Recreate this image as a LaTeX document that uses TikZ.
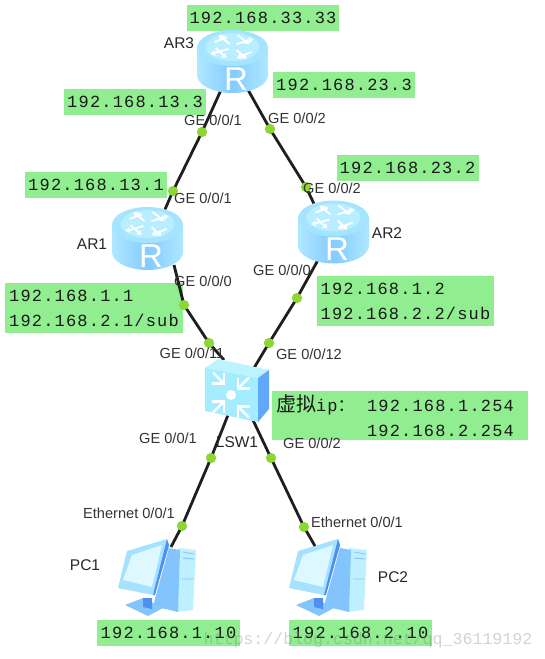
\documentclass[tikz,border=0pt]{standalone}
\usepackage{fontspec}
\setmainfont{Liberation Sans}
\newfontfamily\ipmono[LetterSpace=7]{Liberation Mono}
\newfontfamily\wmmono{Liberation Mono}
\newfontfamily\cjkf{Noto Sans CJK SC}
\usetikzlibrary{arrows.meta}
\definecolor{boxgreen}{HTML}{90EE90}
\definecolor{dotgreen}{HTML}{8CD636}
\definecolor{rtop}{HTML}{A4E4FF}
\definecolor{rtopin}{HTML}{B8EEFF}
\definecolor{rside}{HTML}{AEE8FF}
\definecolor{rmid}{HTML}{86CBFF}
\definecolor{pcblue}{HTML}{84C4FC}
\definecolor{pcdark}{HTML}{4F8FF0}
\definecolor{pclight}{HTML}{BFF0FF}
\definecolor{pcframe}{HTML}{A6E2FF}
\definecolor{pcscreen}{HTML}{DDF8FF}
\definecolor{swfront}{HTML}{A6ECFF}
\definecolor{swtop}{HTML}{BDF2FF}
\definecolor{swright}{HTML}{62A8FA}
\tikzset{
  ipbox/.style={fill=boxgreen,inner sep=0pt,text=black!90,font=\ipmono\fontsize{17}{25}\selectfont,minimum height=26pt},
  ipbox2/.style={ipbox,align=left},
  lbl/.style={inner sep=0pt,text=black!80,font=\fontsize{14.6}{16}\selectfont},
  devlbl/.style={inner sep=0pt,text=black!85,font=\fontsize{15.5}{17}\selectfont},
  link/.style={line width=2.8pt,draw=black!88},
  port/.style={circle,fill=dotgreen,inner sep=0pt,minimum size=10pt},
  devbox/.style={inner sep=0pt,minimum width=71pt,minimum height=63pt},
  whitearrow/.style={draw=white,line width=1.8pt,-{Stealth[length=5pt,width=6.5pt]}},
  whitestroke/.style={draw=white,line width=2.2pt,line join=miter},
  routericon/.pic={
    \path[left color=rside,right color=rside,middle color=rmid]
      (-35.5,18) -- (-35.5,45) arc[start angle=180,end angle=360,x radius=35.5pt,y radius=18pt] -- (35.5,18) -- cycle;
    \fill[rtop] (0,18) ellipse[x radius=35.5pt,y radius=18pt];
    \fill[rtopin] (0,17) ellipse[x radius=27pt,y radius=14pt];
    \draw[whitearrow] (-3,14) -- (-14,5);
    \draw[whitearrow] (-18,12) -- (-5,7);
    \draw[whitearrow] (4,14) -- (21,9);
    \draw[whitearrow] (5,5) -- (17,14);
    \draw[whitearrow] (-4,19) -- (-22,24);
    \draw[whitearrow] (-17,18) -- (-6,28);
    \draw[whitearrow] (4,20) -- (14,29);
    \draw[whitearrow] (19,22) -- (4,28);
    \node[inner sep=0pt,text=white,font=\fontsize{33}{33}\selectfont] at (3.5,49) {R};
  },
  pcicon/.pic={
    \fill[pcblue] (125,605) -- (143,598) -- (163,608) -- (148,616) -- cycle;
    \fill[pcdark] (143,598) -- (152,598) -- (152,609) -- (143,607) -- cycle;
    \fill[pclight] (178,548) -- (196,550) -- (193,610) -- (176,612) -- cycle;
    \fill[pcblue] (169,548) -- (180,550) -- (178,612) -- (153,606) -- cycle;
    \draw[pcblue,line width=.9pt] (183,552) -- (194,554) (183,558) -- (194,559) (182,579) -- (193,579);
    \fill[pcframe] (127,551) -- (167,539) -- (169,547) -- (153,595) -- (118,588) -- cycle;
    \fill[pcdark] (167,539) -- (169,545) -- (155,595) -- (153,595) -- cycle;
    \fill[pcscreen] (132,555) -- (162,545) -- (152,587) -- (123,580) -- cycle;
  }
}
\begin{document}
\begin{tikzpicture}[x=1pt,y=-1pt]
\useasboundingbox (0,0) rectangle (545,659);
% address boxes
\node[ipbox,minimum width=152pt] (ip33) at (263,18) {192.168.33.33};
\node[ipbox,minimum width=142pt] (ip233) at (344,85) {192.168.23.3};
\node[ipbox,minimum width=142pt] (ip133) at (135,102) {192.168.13.3};
\node[ipbox,minimum width=142pt] (ip232) at (407.5,168) {192.168.23.2};
\node[ipbox,minimum width=142pt] (ip131) at (96,185) {192.168.13.1};
\node[ipbox2,minimum width=178pt,minimum height=50pt] (ip11) at (94,308) {192.168.1.1\\192.168.2.1/sub};
\node[ipbox2,minimum width=177pt,minimum height=50pt] (ip12) at (405.5,301) {192.168.1.2\\192.168.2.2/sub};
\node[ipbox2,text width=248pt,minimum width=256pt,minimum height=49pt] (vip) at (400,415.5) {\makebox[91pt][l]{{\cjkf\fontsize{20}{25}\selectfont 虚拟}ip{\cjkf：}}192.168.1.254\\\makebox[91pt][l]{}192.168.2.254};
\node[ipbox,minimum width=143pt] (ip110) at (168.5,633) {192.168.1.10};
\node[ipbox,minimum width=143pt] (ip210) at (360.5,633) {192.168.2.10};
% device anchors
\node[devbox] (AR3) at (232.5,61.5) {};
\node[devbox] (AR1) at (147.5,238.5) {};
\node[devbox] (AR2) at (333.5,232) {};
\node[inner sep=0pt,minimum width=64pt,minimum height=64pt] (LSW) at (237,390) {};
\node[inner sep=0pt,minimum width=78pt,minimum height=76pt] (PC1) at (157,577) {};
\node[inner sep=0pt,minimum width=78pt,minimum height=76pt] (PC2) at (328,577) {};
% PCs lie below their links
\pic at (0,0) {pcicon};
\pic at (171,0) {pcicon};
% line ends inside the devices
\coordinate (e3l) at (221,90);
\coordinate (e3r) at (247,88);
\coordinate (e1u) at (163,214);
\coordinate (e2u) at (316,208);
\coordinate (e1d) at (174,265);
\coordinate (e2d) at (318,260);
\coordinate (esul) at (224,360);
\coordinate (esur) at (254,368);
\coordinate (esdl) at (228,415);
\coordinate (esdr) at (252,418);
\coordinate (epc1) at (171,547);
\coordinate (epc2) at (315,546);
% port dots
\node[port] (p1) at (202,132) {};
\node[port] (p2) at (173,191) {};
\node[port] (p3) at (270,129) {};
\node[port] (p4) at (306,187) {};
\node[port] (p5) at (184,305) {};
\node[port] (p6) at (209,343) {};
\node[port] (p7) at (297,298) {};
\node[port] (p8) at (269,343) {};
\node[port] (p9) at (211,458) {};
\node[port] (p10) at (182,526) {};
\node[port] (p11) at (271,458) {};
\node[port] (p12) at (304,527) {};
% links
\draw[link] (e3l) -- (p1.center) -- (p2.center) -- (e1u);
\draw[link] (e3r) -- (p3.center) -- (p4.center) -- (e2u);
\draw[link] (e1d) -- (p5.center) -- (p6.center) -- (esul);
\draw[link] (e2d) -- (p7.center) -- (p8.center) -- (esur);
\draw[link] (esdl) -- (p9.center) -- (p10.center) -- (epc1);
\draw[link] (esdr) -- (p11.center) -- (p12.center) -- (epc2);
% dots again above the links
\foreach \n in {p1,p2,p3,p4,p5,p6,p7,p8,p9,p10,p11,p12}
  \fill[dotgreen] (\n) circle[radius=5pt];
% routers
\pic at (232.5,30) {routericon};
\pic at (147.5,207) {routericon};
\pic at (333.5,200.5) {routericon};
% switch
\fill[swtop] (205,368) -- (218,359) -- (269,370) -- (258,378) -- cycle;
\fill[swfront] (205,368) -- (258,378) -- (258,422) -- (205,411) -- cycle;
\fill[swright] (258,378) -- (269,370) -- (269,409) -- (258,422) -- cycle;
\fill[white] (231,395) circle[radius=5pt];
\foreach \dx/\dy/\sk in {-1/-1/-2.5, 1/-1/2.5, -1/1/-2.5, 1/1/2.5}{
  \draw[whitestroke] (231+\dx*19,395+\dy*9+\sk) -- (231+\dx*7,395+\dy*9+\sk) -- (231+\dx*7,395+\dy*20+\sk);
  \draw[whitestroke] (231+\dx*18,395+\dy*20+\sk) -- (231+\dx*8,395+\dy*10+\sk);
}
% labels
\node[devlbl] (lAR3) at (179,43) {AR3};
\node[devlbl] (lAR1) at (92,244) {AR1};
\node[devlbl] (lAR2) at (387,233) {AR2};
\node[devlbl] (lPC1) at (85,565) {PC1};
\node[devlbl] (lPC2) at (393,577) {PC2};
\node[devlbl] (lLSW) at (237,442) {LSW1};
\node[lbl] (g1) at (213,120) {GE 0/0/1};
\node[lbl] (g2) at (297,118) {GE 0/0/2};
\node[lbl] (g3) at (203,198) {GE 0/0/1};
\node[lbl] (g4) at (332,188) {GE 0/0/2};
\node[lbl] (g5) at (203,281) {GE 0/0/0};
\node[lbl] (g6) at (282,270) {GE 0/0/0};
\node[lbl] (g7) at (192,353) {GE 0/0/11};
\node[lbl] (g8) at (309,354) {GE 0/0/12};
\node[lbl] (g9) at (168,438) {GE 0/0/1};
\node[lbl] (g10) at (312,443) {GE 0/0/2};
\node[lbl] (g11) at (129,513) {Ethernet 0/0/1};
\node[lbl] (g12) at (357,522) {Ethernet 0/0/1};
% watermark
\node[inner sep=0pt,text=gray,opacity=.35,font=\wmmono\fontsize{16.6}{18}\selectfont] (wm) at (368,640) {https://blog.csdn.net/qq\_36119192};
\end{tikzpicture}
\end{document}
